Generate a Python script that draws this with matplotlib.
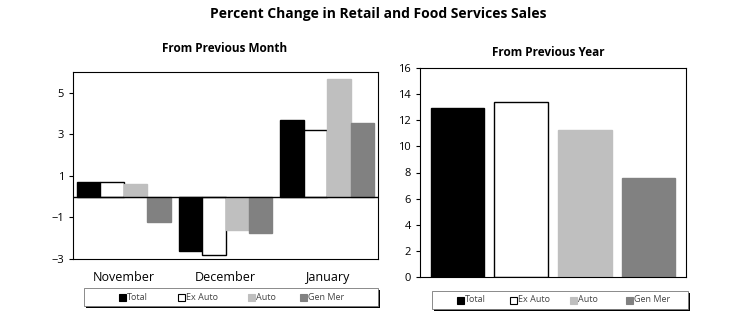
import matplotlib.pyplot as plt
from matplotlib.patches import Rectangle
import numpy as np

plt.rcParams['font.family'] = ['Open Sans', 'DejaVu Sans']
plt.rcParams['hatch.color'] = '#d8d8d8'
plt.rcParams['hatch.linewidth'] = 0.5

series = ['Total', 'Ex Auto', 'Auto', 'Gen Mer']
months = ['November', 'December', 'January']
month_vals = {
    'Total':   [0.7, -2.6, 3.7],
    'Ex Auto': [0.7, -2.8, 3.2],
    'Auto':    [0.6, -1.6, 5.65],
    'Gen Mer': [-1.2, -1.75, 3.55],
}
year_vals = [12.9, 13.4, 11.25, 7.6]

faces = ['black', 'white', '#bfbfbf', '#818181']
edges = ['black', 'black', '#bfbfbf', '#818181']

W, H = 755, 325
fig = plt.figure(figsize=(7.55, 3.25), dpi=100)

def box(l, t, r, b):
    return [l / W, 1 - b / H, (r - l) / W, (b - t) / H]

fig.text(378 / W, 1 - 14 / H, 'Percent Change in Retail and Food Services Sales',
         ha='center', va='center', fontsize=10, fontweight='bold')

# left: from previous month
ax1 = fig.add_axes(box(73, 72, 378, 259))
x = np.arange(len(months))
bw = 0.23
for i, s in enumerate(series):
    ax1.bar(x + (i - 1.5) * bw, month_vals[s], bw, color=faces[i],
            edgecolor=edges[i], linewidth=1.0)
ax1.axhline(0, color='black', lw=1)
ax1.set_xlim(-0.5, 2.5)
ax1.set_ylim(-3, 6)
ax1.set_yticks([-3, -1, 1, 3, 5])
ax1.set_xticks([])
for i, m in enumerate(months):
    ax1.text(x[i], -3.9, m, ha='center', va='center', fontsize=9)
ax1.tick_params(axis='y', labelsize=8, length=3, direction='out')
fig.text(225 / W, 1 - 48 / H, 'From Previous Month', ha='center', va='center',
         fontsize=8.5, fontweight='bold')

# right: from previous year
ax2 = fig.add_axes(box(420, 68, 686, 277))
bx = np.arange(4) * 0.24 - 0.36
for i, s in enumerate(series):
    ax2.bar(bx[i], year_vals[i], 0.2, color=faces[i], edgecolor=edges[i],
            linewidth=1.0)
ax2.set_xlim(-0.5, 0.5)
ax2.set_ylim(0, 16)
ax2.set_yticks(range(0, 17, 2))
ax2.set_xticks([])
ax2.tick_params(axis='y', labelsize=8, length=3, direction='out')
fig.text(548 / W, 1 - 52 / H, 'From Previous Year', ha='center', va='center',
         fontsize=8.5, fontweight='bold')

# legends with shadow box
def legend_box(l, t, r, b, marks):
    fig.add_artist(Rectangle(((l + 2) / W, 1 - (b + 2) / H), (r - l) / W, (b - t) / H,
                             transform=fig.transFigure, facecolor='black', edgecolor='none'))
    fig.add_artist(Rectangle((l / W, 1 - b / H), (r - l) / W, (b - t) / H,
                             transform=fig.transFigure, facecolor='white', edgecolor='#777777', lw=0.6))
    cy = 1 - (t + b) / 2 / H
    for i, s in enumerate(series):
        lx = marks[i]
        fig.add_artist(Rectangle(((lx - 3) / W, cy - 3.5 / H), 7 / W, 7 / H,
                                 transform=fig.transFigure, facecolor=faces[i],
                                 edgecolor='black' if i < 2 else edges[i], lw=0.8))
        fig.text((lx + 5) / W, cy, s, ha='left', va='center', fontsize=6.5, color='#444444')

legend_box(84, 288, 378, 306, [122, 181, 251, 303])
legend_box(432, 291, 688, 309, [460, 513, 573, 629])

fig.savefig('out.png', dpi=100)
